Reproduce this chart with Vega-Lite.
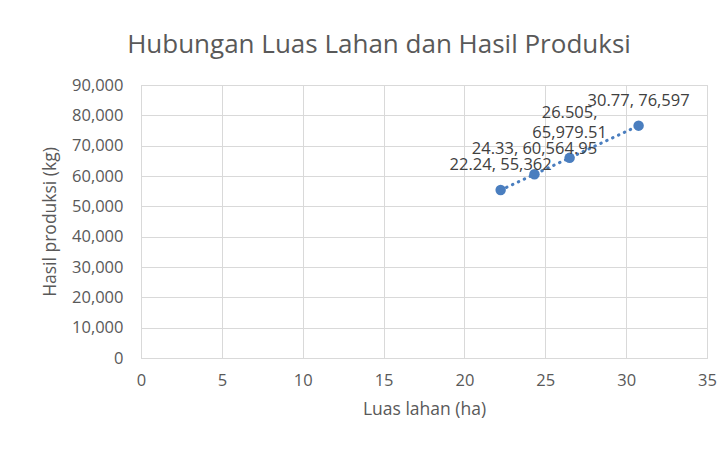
{
  "$schema": "https://vega.github.io/schema/vega-lite/v6.json",
  "autosize": {"type": "none"},
  "width": 566,
  "height": 273,
  "padding": {"left": 141, "top": 85, "right": 17, "bottom": 92},
  "background": "white",
  "title": {
    "text": "Hubungan Luas Lahan dan Hasil Produksi",
    "font": "Open Sans",
    "fontSize": 26,
    "fontWeight": "normal",
    "color": "#595959",
    "anchor": "middle",
    "dx": -45,
    "baseline": "alphabetic",
    "offset": -2
  },
  "config": {
    "view": {"stroke": "#d9d9d9"},
    "axis": {
      "labelFont": "Open Sans",
      "titleFont": "Open Sans",
      "labelFontSize": 16.5,
      "titleFontSize": 17.5,
      "labelColor": "#595959",
      "titleColor": "#595959",
      "titleFontWeight": "normal",
      "gridColor": "#d9d9d9",
      "domainColor": "#d9d9d9",
      "ticks": false,
      "labelOverlap": false
    }
  },
  "data": {
    "values": [
      {"x": 22.24, "y": 55362, "label": "22.24, 55,362", "lines": 1},
      {"x": 24.33, "y": 60564.95, "label": "24.33, 60,564.95", "lines": 1},
      {"x": 26.505, "y": 65979.51, "label": "26.505,\n65,979.51", "lines": 2},
      {"x": 30.77, "y": 76597, "label": "30.77, 76,597", "lines": 1}
    ]
  },
  "encoding": {
    "x": {
      "field": "x",
      "type": "quantitative",
      "scale": {"domain": [0, 35], "nice": false},
      "axis": {"title": "Luas lahan (ha)", "values": [0, 5, 10, 15, 20, 25, 30, 35], "labelPadding": 14, "titlePadding": 12, "labelFlush": false}
    },
    "y": {
      "field": "y",
      "type": "quantitative",
      "scale": {"domain": [0, 90000], "nice": false},
      "axis": {"title": "Hasil produksi (kg)", "values": [0,10000,20000,30000,40000,50000,60000,70000,80000,90000], "format": ",d", "labelPadding": 18, "titlePadding": 12, "labelFlush": false}
    }
  },
  "layer": [
    {
      "mark": {"type": "line", "color": "#4A7EBF", "strokeWidth": 3, "strokeDash": [0.5, 6], "strokeCap": "round"}
    },
    {
      "mark": {"type": "circle", "color": "#4A7EBF", "size": 110, "opacity": 1}
    },
    {
      "transform": [{"filter": "datum.lines == 1"}],
      "mark": {"type": "text", "font": "Open Sans", "fontSize": 16.5, "color": "#404040", "baseline": "bottom", "dy": -17},
      "encoding": {"text": {"field": "label"}}
    },
    {
      "transform": [{"filter": "datum.lines == 2"}],
      "mark": {"type": "text", "font": "Open Sans", "fontSize": 16.5, "color": "#404040", "baseline": "bottom", "dy": -37, "lineBreak": "\n", "lineHeight": 20},
      "encoding": {"text": {"field": "label"}}
    }
  ]
}
